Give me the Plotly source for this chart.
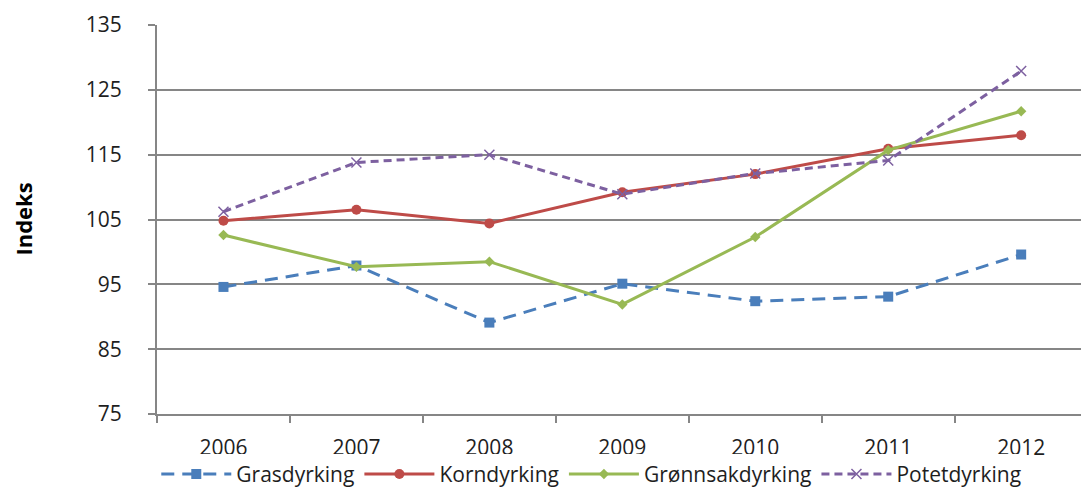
import plotly.graph_objects as go

# Years on the category axis
years = ["2006", "2007", "2008", "2009", "2010", "2011", "2012"]

# Index values per production type
grasdyrking = [94.6, 97.9, 89.1, 95.1, 92.4, 93.1, 99.6]
korndyrking = [104.8, 106.5, 104.4, 109.2, 112.0, 115.9, 118.0]
gronnsakdyrking = [102.6, 97.7, 98.5, 91.9, 102.3, 115.7, 121.7]
potetdyrking = [106.2, 113.8, 115.0, 108.9, 112.1, 114.1, 127.9]

y_ticks = [75, 85, 95, 105, 115, 125, 135]

FONT = "Open Sans"
TEXT = "#1e1e1e"
AXIS = "#868686"

fig = go.Figure()

fig.add_trace(go.Scatter(
    x=years, y=grasdyrking, name="Grasdyrking", mode="lines+markers",
    line=dict(color="#4A7EBB", width=3, dash="13px,8px"),
    marker=dict(symbol="square", size=10, color="#4A7EBB"),
))
fig.add_trace(go.Scatter(
    x=years, y=korndyrking, name="Korndyrking", mode="lines+markers",
    line=dict(color="#BE4B48", width=3),
    marker=dict(symbol="circle", size=10, color="#BE4B48"),
))
fig.add_trace(go.Scatter(
    x=years, y=gronnsakdyrking, name="Grønnsakdyrking", mode="lines+markers",
    line=dict(color="#98B954", width=3),
    marker=dict(symbol="diamond", size=8, color="#98B954"),
))
fig.add_trace(go.Scatter(
    x=years, y=potetdyrking, name="Potetdyrking", mode="lines+markers",
    line=dict(color="#7D60A0", width=3, dash="8px,5px"),
    marker=dict(symbol="x-thin", size=10, color="#7D60A0",
                line=dict(color="#7D60A0", width=1.5)),
))

fig.update_layout(
    width=1081, height=493,
    margin=dict(l=157, r=0, t=25, b=79, autoexpand=False),
    plot_bgcolor="white", paper_bgcolor="white",
    font=dict(family=FONT, size=21, color=TEXT),
    showlegend=True,
    legend=dict(
        orientation="h", x=0.47, xanchor="center", y=-0.155, yanchor="middle",
        font=dict(family=FONT, size=21, color=TEXT),
        itemwidth=70, traceorder="normal",
    ),
    annotations=[dict(
        text="<b>Indeks</b>", xref="paper", yref="paper",
        x=-0.146, y=0.5, xanchor="center", yanchor="middle",
        textangle=-90, showarrow=False,
        font=dict(family=FONT, size=22, color="black"),
    )],
)

fig.update_xaxes(
    type="category", range=[-0.5, 6.45], automargin=False,
    showline=True, linecolor=AXIS, linewidth=2,
    ticks="outside", ticklen=7, tickcolor=AXIS, tickwidth=2,
    tickson="boundaries", showgrid=False,
    ticklabelstandoff=14,
)
fig.update_yaxes(
    range=[75, 135], tickvals=y_ticks, automargin=False,
    showline=True, linecolor=AXIS, linewidth=2,
    ticks="outside", ticklen=7, tickcolor=AXIS, tickwidth=2,
    showgrid=True, gridcolor=AXIS, gridwidth=2, zeroline=False,
    ticklabelstandoff=22,
)

fig.write_html("out.html")
